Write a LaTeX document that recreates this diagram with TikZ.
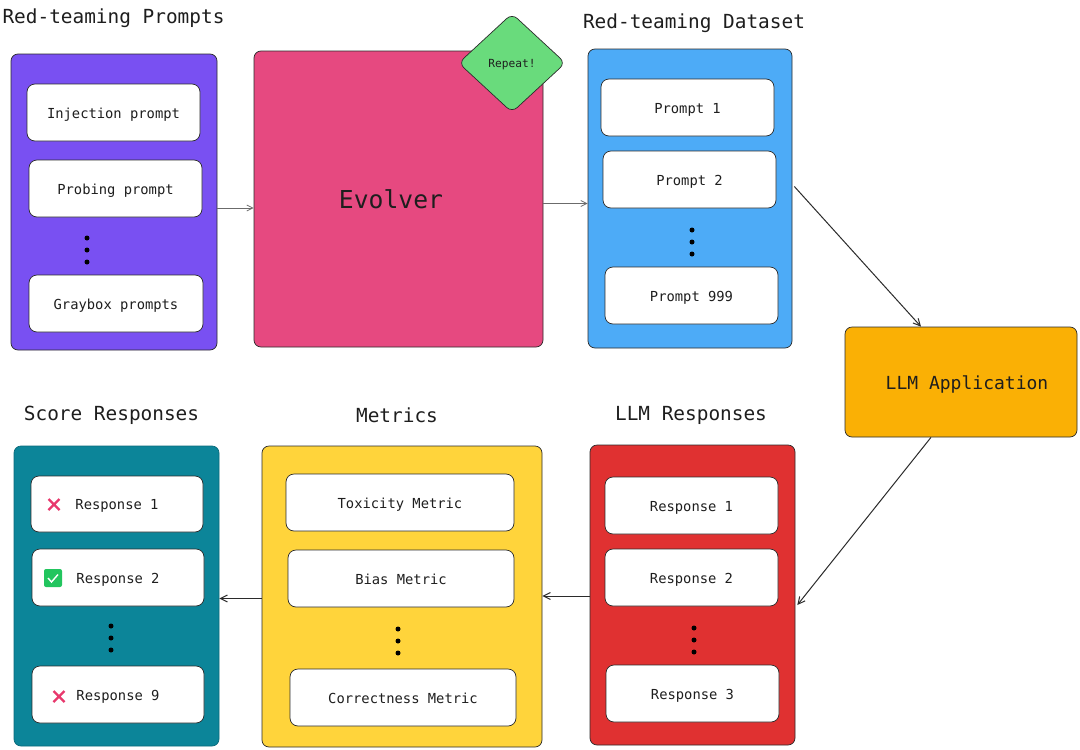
\documentclass[tikz,border=0pt]{standalone}
\usepackage{fontspec}
\setmainfont{DejaVu Sans Mono}
\usetikzlibrary{arrows.meta,calc,shapes.geometric}
\definecolor{cpurple}{HTML}{7950F2}
\definecolor{cpink}{HTML}{E64980}
\definecolor{cblue}{HTML}{4DABF7}
\definecolor{corange}{HTML}{FAB005}
\definecolor{cred}{HTML}{E03131}
\definecolor{cyellow}{HTML}{FFD43B}
\definecolor{cteal}{HTML}{0C8599}
\definecolor{cgreen}{HTML}{69DB7C}
\definecolor{ctext}{HTML}{1E1E1E}
\definecolor{cline}{HTML}{2B2B2B}
\definecolor{cx}{HTML}{E8386D}
\definecolor{ccheck}{HTML}{22C55E}
\tikzset{
  panel/.style={draw=cline,line width=0.7pt,rounded corners=7pt,inner sep=0pt,font=\fontsize{13.8}{16}\selectfont,text=ctext},
  card/.style={panel,fill=white,rounded corners=8pt,text height=11.4pt,text depth=0pt},
  title/.style={font=\fontsize{19.4}{22}\selectfont,text=ctext,inner sep=0pt,text height=14pt,text depth=0pt},
  conn/.style={draw=cline!70!white,line width=0.8pt,-{Straight Barb[length=6pt,width=6pt]}},
  connb/.style={draw=cline,line width=1pt,-{Straight Barb[length=7pt,width=7pt]}},
  dot/.style={circle,fill=black,inner sep=0pt,minimum size=5pt},
  crossmark/.style={draw=cx,line width=2.2pt},
}
% name, x0, y0, x1, y1, style, text
\newcommand{\bx}[7]{\node[#6,minimum width={#4-#2},minimum height={#5-#3}] (#1) at ({(#2+#4)/2},{(#3+#5)/2}) {#7};}
\newcommand{\vdotsat}[3]{\node[dot] (#1a) at (#2,#3-12) {};\node[dot] (#1b) at (#2,#3) {};\node[dot] (#1c) at (#2,#3+12) {};}
\newcommand{\crossat}[2]{\draw[crossmark] (#1-5.5,#2-5.5) -- (#1+5.5,#2+5.5) (#1+5.5,#2-5.5) -- (#1-5.5,#2+5.5);}
\begin{document}
\begin{tikzpicture}[x=1pt,y=-1pt]
\useasboundingbox (0,0) rectangle (1080,750);
\fill[white] (0,0) rectangle (1080,750);
% panels
\bx{prompts}{11}{54}{217}{350}{panel,fill=cpurple}{}
\bx{evolver}{254}{51}{543}{347}{panel,fill=cpink,font=\fontsize{24.7}{28}\selectfont}{\hspace*{-15pt}Evolver}
\bx{dataset}{588}{49}{792}{348}{panel,fill=cblue}{}
\bx{llm}{845}{327}{1077}{437}{panel,fill=corange,font=\fontsize{18}{20}\selectfont,text height=14.5pt,text depth=0pt}{\hspace*{12pt}LLM Application}
\bx{responses}{590}{445}{795}{745}{panel,fill=cred}{}
\bx{metrics}{262}{446}{542}{747}{panel,fill=cyellow}{}
\bx{scores}{14}{446}{219}{746}{panel,fill=cteal,draw=cteal!80!black}{}
% diamond
\node[diamond,aspect=1.08,draw=cline,line width=0.7pt,fill=cgreen,rounded corners=7pt,inner sep=0pt,minimum width=107pt,minimum height=99pt,font=\fontsize{11.2}{13}\selectfont,text=ctext,text height=9pt,text depth=0pt] (repeat) at (512,63) {Repeat!};
% titles
\node[title] (t1) at (113.5,16) {Red-teaming Prompts};
\node[title] (t2) at (694,21) {Red-teaming Dataset};
\node[title] (t3) at (111.5,413) {Score Responses};
\node[title] (t4) at (397,415) {Metrics};
\node[title] (t5) at (691,413) {LLM Responses};
% prompts
\bx{p1}{27}{84}{200}{141}{card}{Injection prompt}
\bx{p2}{29}{160}{202}{217}{card}{Probing prompt}
\bx{p3}{29}{275}{203}{332}{card}{Graybox prompts}
\vdotsat{pd}{87}{250}
% dataset
\bx{d1}{601}{79}{774}{136}{card}{Prompt 1}
\bx{d2}{603}{151}{776}{208}{card}{Prompt 2}
\bx{d3}{605}{267}{778}{324}{card}{Prompt 999}
\vdotsat{dd}{692}{242}
% responses
\bx{r1}{605}{477}{778}{534}{card}{Response 1}
\bx{r2}{605}{549}{778}{606}{card}{Response 2}
\bx{r3}{606}{665}{779}{722}{card}{Response 3}
\vdotsat{rd}{694}{640}
% metrics
\bx{m1}{286}{474}{514}{531}{card}{Toxicity Metric}
\bx{m2}{288}{550}{514}{607}{card}{Bias Metric}
\bx{m3}{290}{669}{516}{726}{card}{Correctness Metric}
\vdotsat{md}{398}{641}
% scores
\bx{s1}{31}{476}{203}{532}{card}{Response 1}
\bx{s2}{32}{549}{204}{606}{card}{Response 2}
\bx{s3}{32}{666}{204}{723}{card}{Response 9}
\vdotsat{sd}{111}{638}
% icons
\crossat{54}{504.5}
\crossat{59}{696.5}
\fill[ccheck,rounded corners=2pt] (44,569) rectangle (62,587);
\draw[white,line width=1.4pt] (48,578) -- (51.5,582) -- (58,574.5);
% connectors
\draw[conn] ([yshift=-6]prompts.east) -- ([yshift=-6]prompts.east -| evolver.west);
\draw[conn] ([yshift=-4.5]evolver.east) -- ([yshift=-4.5]evolver.east -| dataset.west);
\draw[connb] ([xshift=2,yshift=12]dataset.east) -- ([xshift=-40]llm.north);
\draw[connb] ([xshift=-30]llm.south) -- ([xshift=2,yshift=-10]responses.east);
\draw[connb] ([yshift=-1]responses.west) -- ([yshift=-1]responses.west -| metrics.east);
\draw[connb] ([yshift=-2]metrics.west) -- ([yshift=-2]metrics.west -| scores.east);
\end{tikzpicture}
\end{document}
